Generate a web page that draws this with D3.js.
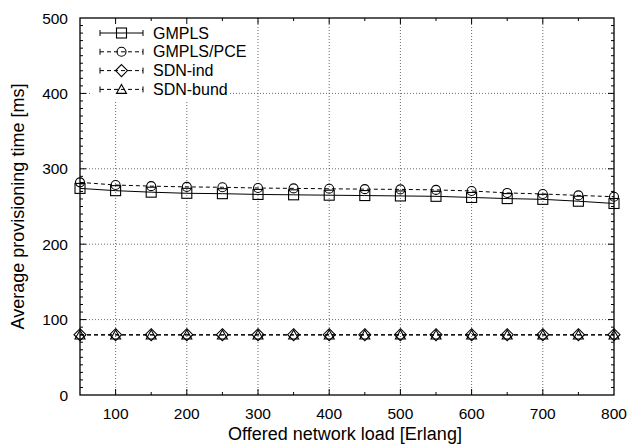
<!DOCTYPE html>
<html>
<head>
<meta charset="utf-8">
<script src="https://cdn.jsdelivr.net/npm/d3@7"></script>
<style>
  body { margin: 0; background: #fff; }
  svg text { font-family: "Liberation Sans", Arial, sans-serif; fill: #000; }
</style>
</head>
<body>
<svg id="chart" width="630" height="445"></svg>
<script>
// offered load [Erlang]
const loads = [50, 100, 150, 200, 250, 300, 350, 400, 450, 500, 550, 600, 650, 700, 750, 800]

// average provisioning time [ms]
const gmpls    = [274, 271, 269, 267.5, 267, 266, 265.5, 265, 264.5, 264, 263.5, 262, 260.5, 259.5, 257, 254]
const gmplsPce = [282, 278.5, 277, 276, 275.5, 274.5, 274, 273.5, 273, 272.7, 272, 270.6, 268, 266.6, 264.7, 263]
const sdnInd   = [80, 80, 80, 80, 80, 80, 80, 80, 80, 80, 80, 80, 80, 80, 80, 80]
const sdnBund  = [79.5, 79.5, 79.5, 79.5, 79.5, 79.5, 79.5, 79.5, 79.5, 79.5, 79.5, 79.5, 79.5, 79.5, 79.5, 79.5]

const seriesNames = ['GMPLS', 'GMPLS/PCE', 'SDN-ind', 'SDN-bund']
const seriesData = [gmpls, gmplsPce, sdnInd, sdnBund]
const seriesMarkers = ['square', 'circle', 'diamond', 'triangle']
const seriesDash = [null, '4,3', '4,3', '4,3']

const xTicks = [100, 200, 300, 400, 500, 600, 700, 800]
const yTicks = [0, 100, 200, 300, 400, 500]

let svg = d3.select('#chart')
let margin = {left: 80, right: 16, top: 18, bottom: 50}
let width = 630 - margin.left - margin.right,
    height = 445 - margin.top - margin.bottom

let x = d3.scaleLinear().domain([50, 800]).range([0, width])
let y = d3.scaleLinear().domain([0, 500]).range([height, 0])

let g = svg.append('g').attr('transform', 'translate(' + margin.left + ',' + margin.top + ')')

// grid
g.selectAll('.vgrid').data(xTicks.filter(d => d < 800)).enter().append('line')
    .attr('x1', d => x(d)).attr('x2', d => x(d))
    .attr('y1', 0).attr('y2', height)
    .attr('stroke', '#444').attr('stroke-width', 0.8).attr('stroke-dasharray', '1,2')
g.selectAll('.hgrid').data(yTicks.filter(d => d > 0 && d < 500)).enter().append('line')
    .attr('x1', 0).attr('x2', width)
    .attr('y1', d => y(d)).attr('y2', d => y(d))
    .attr('stroke', '#444').attr('stroke-width', 0.8).attr('stroke-dasharray', '1,2')

// legend background hides grid behind it
g.append('rect').attr('x', 10).attr('y', 1).attr('width', 138).attr('height', 81).attr('fill', '#fff')

// ticks on all four sides (inward)
let xMinor = d3.range(100, 800, 50)
let yMinor = d3.range(10, 500, 10)
let tickG = g.append('g').attr('stroke', '#000').attr('stroke-width', 1)
xMinor.forEach(v => {
    let len = v % 100 == 0 ? 6 : 3
    tickG.append('line').attr('x1', x(v)).attr('x2', x(v)).attr('y1', height).attr('y2', height - len)
    tickG.append('line').attr('x1', x(v)).attr('x2', x(v)).attr('y1', 0).attr('y2', len)
})
yMinor.forEach(v => {
    let len = v % 100 == 0 ? 6 : 3
    tickG.append('line').attr('x1', 0).attr('x2', len).attr('y1', y(v)).attr('y2', y(v))
    tickG.append('line').attr('x1', width).attr('x2', width - len).attr('y1', y(v)).attr('y2', y(v))
})

// frame
g.append('rect').attr('width', width).attr('height', height)
    .attr('fill', 'none').attr('stroke', '#000').attr('stroke-width', 1.3)

// tick labels
g.selectAll('.xl').data(xTicks).enter().append('text')
    .attr('x', d => x(d)).attr('y', height + 24)
    .attr('text-anchor', 'middle').attr('font-size', 15.5).text(d => d)
g.selectAll('.yl').data(yTicks).enter().append('text')
    .attr('x', -12).attr('y', d => y(d) + 5.5)
    .attr('text-anchor', 'end').attr('font-size', 15.5).text(d => d)

// axis titles
svg.append('text').attr('x', margin.left + width / 2 - 2).attr('y', 440)
    .attr('text-anchor', 'middle').attr('font-size', 18).text('Offered network load [Erlang]')
svg.append('text').attr('transform', 'translate(24,' + (margin.top + height / 2) + ') rotate(-90)')
    .attr('text-anchor', 'middle').attr('font-size', 18).text('Average provisioning time [ms]')

let drawMarker = (sel, type, cx, cy) => {
    let m
    if(type == 'square'){
        m = sel.append('rect').attr('x', cx - 5).attr('y', cy - 5).attr('width', 10).attr('height', 10)
    }
    else if(type == 'circle'){
        m = sel.append('circle').attr('cx', cx).attr('cy', cy).attr('r', 4.5)
    }
    else if(type == 'diamond'){
        m = sel.append('path').attr('d', `M${cx},${cy - 6}L${cx + 6},${cy}L${cx},${cy + 6}L${cx - 6},${cy}Z`)
    }
    else {
        m = sel.append('path').attr('d', `M${cx},${cy - 5}L${cx + 5},${cy + 4}L${cx - 5},${cy + 4}Z`)
    }
    m.attr('fill', 'none').attr('stroke', '#000').attr('stroke-width', 1.1)
}

let line = d3.line().x((d, i) => x(loads[i])).y(d => y(d))

for(let s = seriesData.length - 1; s >= 0; s--){
    g.append('path').datum(seriesData[s])
        .attr('d', line)
        .attr('fill', 'none').attr('stroke', '#000').attr('stroke-width', 1)
        .attr('stroke-dasharray', seriesDash[s])
    let mg = g.append('g')
    seriesData[s].forEach((v, i) => drawMarker(mg, seriesMarkers[s], x(loads[i]), y(v)))
}

// legend
let lg = g.append('g')
seriesNames.forEach((name, i) => {
    let ly = 15 + i * 18.8
    lg.append('line').attr('x1', 20).attr('x2', 63).attr('y1', ly).attr('y2', ly)
        .attr('stroke', '#000').attr('stroke-width', 1).attr('stroke-dasharray', seriesDash[i])
    lg.append('line').attr('x1', 20).attr('x2', 20).attr('y1', ly - 3).attr('y2', ly + 3).attr('stroke', '#000')
    lg.append('line').attr('x1', 63).attr('x2', 63).attr('y1', ly - 3).attr('y2', ly + 3).attr('stroke', '#000')
    drawMarker(lg, seriesMarkers[i], 41.5, ly)
    lg.append('text').attr('x', 73).attr('y', ly + 5.5).attr('font-size', 16).text(name)
})
</script>
</body>
</html>
